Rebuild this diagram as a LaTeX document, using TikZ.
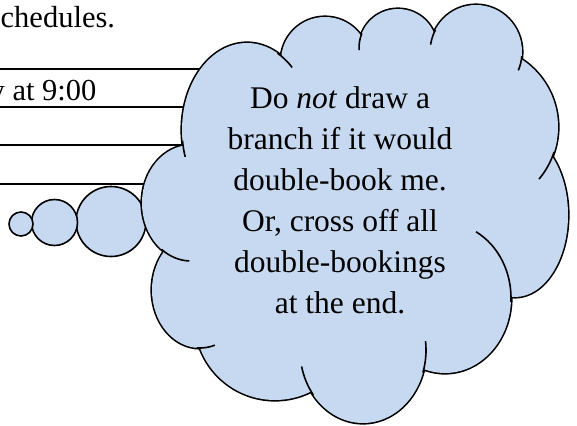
\documentclass[tikz,border=0pt]{standalone}
\usepackage{fontspec}
\setmainfont{Liberation Serif}
\definecolor{cloudfill}{RGB}{198,217,240}

% lobes of the thought cloud: centre x / centre y / x radius / y radius
\newcommand\cloudlobes{247/130/65/87, 325/61/44/44, 398/48/39/39,
  476/52/46/47, 477/127/81/81, 515/215/53/82, 445/298/66/75,
  363/350/63/73, 275/320/80/80, 200/290/48/58, 191/203/49/58}

% short inner strokes where one lobe runs on past its neighbour:
% centre x / centre y / x radius / y radius / from angle / to angle
\newcommand\cloudticks{247/130/65/87/173/162, 247/130/65/87/298/314,
  398/48/39/39/202/177, 476/52/46/47/208/189, 476/52/46/47/5/23,
  477/127/81/81/18/40, 445/298/66/75/3/-62, 363/350/63/73/18/-7,
  363/350/63/73/142/167, 200/290/48/58/94/72, 191/203/49/58/127/92}

\begin{document}
\begin{tikzpicture}[x=1pt,y=-1pt,
  rule/.style={line width=1.4pt},
  bubble/.style={draw=black,line width=1.6pt,fill=cloudfill},
  lobeedge/.style={draw=black,line width=3.2pt},
  tickline/.style={draw=black,line width=1.6pt},
  bodytext/.style={inner sep=0pt,anchor=base west,font=\fontsize{30.5}{36}\selectfont},
  cloudtext/.style={inner sep=0pt,anchor=base,font=\fontsize{31.5}{41}\selectfont}]
\useasboundingbox (0,0) rectangle (577,425);

% page text and table rules behind the cloud
\node[bodytext] (head) at (0.5,27.5) {chedules.};
\node[bodytext] (row1) at (-10.5,100) {y at 9:00};
\draw[rule] (-2,69) -- (260,69);
\draw[rule] (-2,107) -- (260,107);
\draw[rule] (-2,145) -- (260,145);
\draw[rule] (-2,184) -- (260,184);

% trail of thought bubbles
\draw[bubble] (111,221.5) circle[radius=35];
\draw[bubble] (54.5,222.5) circle[radius=23];
\draw[bubble] (21,224) circle[radius=12];

% cloud: heavy outlines first, then the fill hides their inner half
\foreach \cx/\cy/\rx/\ry in \cloudlobes
  \draw[lobeedge] (\cx,\cy) ellipse[x radius=\rx, y radius=\ry];
\foreach \cx/\cy/\rx/\ry in \cloudlobes
  \fill[cloudfill] (\cx,\cy) ellipse[x radius=\rx, y radius=\ry];
\fill[cloudfill] (247,130) -- (325,61) -- (398,48) -- (476,52) -- (477,127)
  -- (515,215) -- (445,298) -- (363,350) -- (275,320) -- (200,290)
  -- (191,203) -- cycle;
\foreach \cx/\cy/\rx/\ry/\a/\b in \cloudticks
  \draw[tickline] ({\cx+\rx*cos(\a)},{\cy+\ry*sin(\a)})
    arc[start angle=\a, end angle=\b, x radius=\rx, y radius=\ry];

% the thought
\node[cloudtext] (t1) at (340,108) {Do \textit{not} draw a};
\node[cloudtext] (t2) at (340,149) {branch if it would};
\node[cloudtext] (t3) at (340,190) {double-book me.};
\node[cloudtext] (t4) at (340,231) {Or, cross off all};
\node[cloudtext] (t5) at (340,272) {double-bookings};
\node[cloudtext] (t6) at (340,313) {at the end.};
\end{tikzpicture}
\end{document}
